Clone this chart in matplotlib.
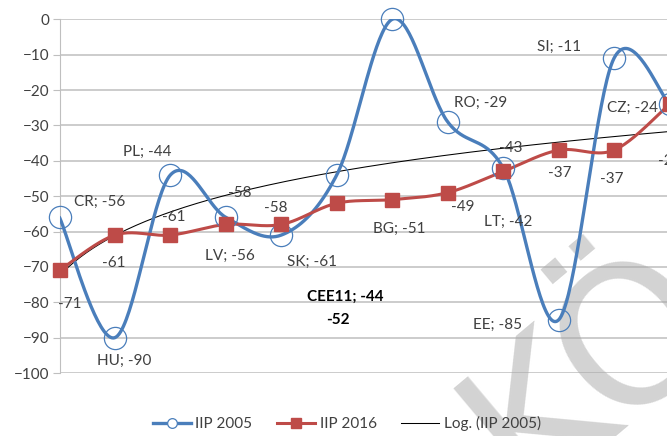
import numpy as np
import matplotlib
matplotlib.use("Agg")
import matplotlib.pyplot as plt
from matplotlib.lines import Line2D

# IIP (% of GDP) by country, 2005 vs 2016
categories = ["CR", "HU", "PL", "LV", "SK", "CEE11", "BG", "RO", "LT", "EE", "SI", "CZ"]
iip_2005 = [-56, -90, -44, -56, -61, -44, 0, -29, -42, -85, -11, -24]
iip_2016 = [-71, -61, -61, -58, -58, -52, -51, -49, -43, -37, -37, -24]

BLUE = "#4a7ebb"
RED = "#be4b48"
TXT = "#404040"

plt.rcParams["font.family"] = ["Lato", "DejaVu Sans"]
plt.rcParams["font.size"] = 11


def smooth(x, y, n=40):
    # Catmull-Rom style bezier, like the office "smoothed line" option
    x = np.asarray(x, float)
    y = np.asarray(y, float)
    pts = np.column_stack([x, y])
    out = []
    t = np.linspace(0, 1, n)[:, None]
    for i in range(len(pts) - 1):
        p0 = pts[max(i - 1, 0)]
        p1 = pts[i]
        p2 = pts[i + 1]
        p3 = pts[min(i + 2, len(pts) - 1)]
        c1 = p1 + (p2 - p0) / 6
        c2 = p2 - (p3 - p1) / 6
        seg = ((1 - t) ** 3) * p1 + 3 * ((1 - t) ** 2) * t * c1 + 3 * (1 - t) * t ** 2 * c2 + t ** 3 * p2
        out.append(seg if i == 0 else seg[1:])
    out = np.vstack(out)
    return out[:, 0], out[:, 1]


xs = np.arange(1, len(categories) + 1)

fig = plt.figure(figsize=(6.67, 4.36), dpi=100)
ax = fig.add_axes([59.5 / 667, 63 / 436, 610 / 667, 353.7 / 436])

# logarithmic trend of the 2005 series
a, b = np.polyfit(np.log(xs), iip_2005, 1)
xt = np.linspace(1, len(categories), 200)
ax.plot(xt, a * np.log(xt) + b, color="black", lw=0.75, zorder=3)

bx, by = smooth(xs, iip_2005)
ax.plot(bx, by, color=BLUE, lw=2.4, zorder=4, solid_capstyle="round")
ax.plot(xs, iip_2005, ls="none", marker="o", ms=16, mfc="none", mec=BLUE, mew=0.9,
        zorder=5, clip_on=False)

rx, ry = smooth(xs, iip_2016)
ax.plot(rx, ry, color=RED, lw=2.2, zorder=4)
ax.plot(xs, iip_2016, ls="none", marker="s", ms=9.5, mfc=RED, mec=RED, zorder=6, clip_on=False)

# data labels (pixel offsets from the marker centre)
blue_off = [(40, -15), (9, 23), (-23, -23), (4, 39), (31, 27), (8, 122), None,
            (33, -19), (5, 54), (-61, 5), (-55, -11), (-37, 4)]
red_off = [(10, 34), (-1, 28), (3, -18), (14, -31), (-6, -16), (1, 117), (7, 29),
           (15, 14), (8, -23), (1, 23), (-2, 29), (0, 57)]

for i, (cat, v) in enumerate(zip(categories, iip_2005)):
    if blue_off[i] is None:
        continue
    dx, dy = blue_off[i]
    bold = cat == "CEE11"
    ax.annotate(f"{cat}; {v}", (xs[i], v), xytext=(dx, -dy), textcoords="offset pixels",
                ha="center", va="center", color="black" if bold else TXT,
                fontweight="bold" if bold else "normal", zorder=7, annotation_clip=False)

for i, (cat, v) in enumerate(zip(categories, iip_2016)):
    dx, dy = red_off[i]
    txt = f"{cat}; {v}" if cat == "BG" else f"{v}"
    bold = cat == "CEE11"
    ax.annotate(txt, (xs[i], v), xytext=(dx, -dy), textcoords="offset pixels",
                ha="center", va="center", color="black" if bold else TXT,
                fontweight="bold" if bold else "normal", zorder=7, annotation_clip=False)

ax.set_xlim(1, len(categories))
ax.set_ylim(-100, 0)
ax.set_yticks(np.arange(-100, 1, 10))
ax.set_xticks([])
ax.yaxis.grid(True, color="#bfbfbf", lw=1.1)
ax.set_axisbelow(True)
for s in ["top", "right", "bottom"]:
    ax.spines[s].set_visible(False)
ax.spines["left"].set_color("#bfbfbf")
ax.tick_params(axis="y", length=5, color="#bfbfbf", labelcolor=TXT, pad=2, labelsize=11)

# faint watermark lettering
ax.text(525 / 667, 1 - 497 / 436, "KÖ", transform=fig.transFigure, rotation=40,
        rotation_mode="anchor", ha="left", va="baseline", fontsize=138,
        color="#a8a8a8", alpha=0.5, zorder=2, clip_on=False, family="DejaVu Sans")

handles = [
    Line2D([], [], color=BLUE, lw=2.4, marker="o", ms=7, mfc="white", mec=BLUE, mew=0.9),
    Line2D([], [], color=RED, lw=2.2, marker="s", ms=7, mfc=RED, mec=RED),
    Line2D([], [], color="black", lw=0.75),
]
fig.legend(handles, ["IIP 2005", "IIP 2016", "Log. (IIP 2005)"], loc="center",
           bbox_to_anchor=(0.52, 0.028), ncol=3, frameon=False, handlelength=2.5,
           columnspacing=1.6, handletextpad=0.3, labelcolor=TXT, fontsize=11)

fig.savefig("out.png", dpi=100)
